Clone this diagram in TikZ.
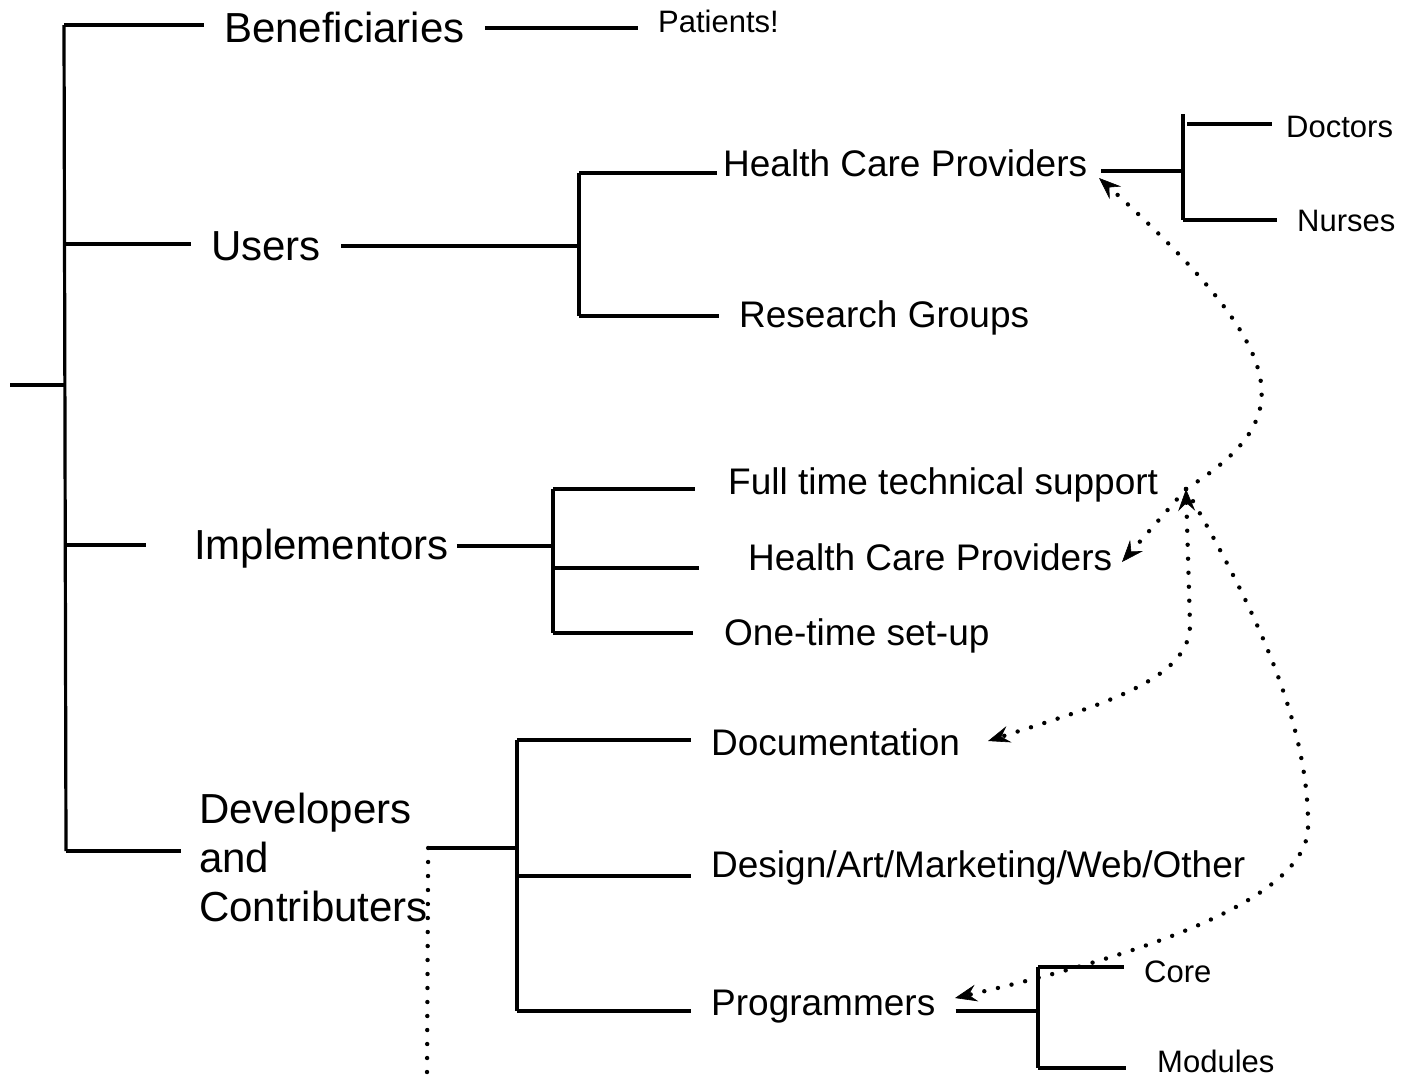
\documentclass[tikz,border=0pt]{standalone}
\usepackage{fontspec}
\setmainfont{Liberation Sans}
\usetikzlibrary{arrows.meta}

\begin{document}
\begin{tikzpicture}[x=1pt, y=-1pt,
    branch/.style={line width=3.2pt},
    dots/.style={line width=4.4pt, line cap=round, dash pattern=on 0pt off 14pt},
    >={Stealth[length=22pt, width=17pt, inset=8pt, line width=0.6pt]},
    topic/.style={anchor=base west, inner xsep=20pt, font=\fontsize{42}{49}\selectfont},
    role/.style={anchor=base west, inner xsep=20pt, font=\fontsize{37}{44}\selectfont},
    detail/.style={anchor=base west, inner xsep=20pt, font=\fontsize{31}{37}\selectfont}]

    \useasboundingbox (0,0) rectangle (1404,1077);

    % Top level groups
    \node[topic] (benef) at (204,42) {Beneficiaries};
    \node[topic] (users) at (191,260) {Users};
    \node[topic, inner xsep=8pt] (impl) at (186,559) {Implementors};
    \node[topic, anchor=west, inner xsep=0pt, align=left] (dev) at (199,857) {Developers\\and\\Contributers};

    % Second level
    \node[role, inner xsep=6pt] (hcp) at (717,176) {Health Care Providers};
    \node[role] (research) at (719,327) {Research Groups};
    \node[role, inner xsep=33pt] (support) at (695,494) {Full time technical support};
    \node[role, inner xsep=49pt] (hcpimpl) at (699,570) {Health Care Providers};
    \node[role, inner xsep=31pt] (setup) at (693,645) {One-time set-up};
    \node[role] (docs) at (691,755) {Documentation};
    \node[role] (design) at (691,877) {Design/Art/Marketing/Web/Other};
    \node[role] (prog) at (691,1015) {Programmers};

    % Leaves
    \node[detail] (patients) at (638,32) {Patients!};
    \node[detail, inner xsep=14pt] (doctors) at (1272,137) {Doctors};
    \node[detail] (nurses) at (1277,231) {Nurses};
    \node[detail] (core) at (1124,982) {Core};
    \node[detail, inner xsep=31pt] (modules) at (1126,1072) {Modules};

    % Main trunk
    \coordinate (root) at (10,385);
    \coordinate (tB) at (64,25);
    \coordinate (tU) at (64,244);
    \coordinate (tI) at (65,545);
    \coordinate (tD) at (66,851);
    \draw[branch] (tB) -- (tD);
    \draw[branch] (root) -- (root -| tB);
    \draw[branch] (tB) -- (tB -| benef.west);
    \draw[branch] (tU) -- (tU -| users.west);
    \draw[branch, shorten >=40pt] (tI) -- (tI -| impl.west);
    \draw[branch, shorten >=18pt] (tD) -- (tD -| dev.west);

    % Beneficiaries
    \coordinate (pJ) at (491,28);
    \draw[branch] (benef.east |- pJ) -- (patients.west |- pJ);

    % Users
    \coordinate (uJ) at (579,246);
    \coordinate (uTop) at (579,173);
    \coordinate (uBot) at (579,316);
    \draw[branch] (users.east |- uJ) -- (uJ);
    \draw[branch] (uTop) -- (uBot);
    \draw[branch] (uTop) -- (uTop -| hcp.west);
    \draw[branch] (uBot) -- (uBot -| research.west);

    % Health care providers
    \coordinate (hJ) at (1183,171);
    \coordinate (hTop) at (1183,114);
    \coordinate (hDoc) at (1187,124);
    \coordinate (hBot) at (1183,220);
    \draw[branch, shorten <=8pt] (hcp.east |- hJ) -- (hJ);
    \draw[branch] (hTop) -- (hBot);
    \draw[branch] (hDoc) -- (hDoc -| doctors.west);
    \draw[branch] (hBot) -- (hBot -| nurses.west);

    % Implementors
    \coordinate (iJ) at (553,546);
    \coordinate (iTop) at (553,489);
    \coordinate (iMid) at (553,568);
    \coordinate (iBot) at (553,633);
    \draw[branch] (impl.east |- iJ) -- (iJ);
    \draw[branch] (iTop) -- (iBot);
    \draw[branch] (iTop) -- (iTop -| support.west);
    \draw[branch] (iMid) -- (iMid -| hcpimpl.west);
    \draw[branch] (iBot) -- (iBot -| setup.west);

    % Developers
    \coordinate (dJ) at (517,848);
    \coordinate (dTop) at (517,740);
    \coordinate (dMid) at (517,876);
    \coordinate (dBot) at (517,1011);
    \coordinate (devEnd) at (427,1077);
    \draw[branch] (dev.east |- dJ) -- (dJ);
    \draw[branch] (dTop) -- (dBot);
    \draw[branch] (dTop) -- (dTop -| docs.west);
    \draw[branch] (dMid) -- (dMid -| design.west);
    \draw[branch] (dBot) -- (dBot -| prog.west);
    \draw[dots] (dev.east |- dJ) -- (devEnd);

    % Programmers
    \coordinate (pgJ) at (1038,1011);
    \coordinate (pgTop) at (1038,967);
    \coordinate (pgBot) at (1038,1068);
    \draw[branch] (prog.east |- pgJ) -- (pgJ);
    \draw[branch] (pgTop) -- (pgBot);
    \draw[branch] (pgTop) -- (pgTop -| core.west);
    \draw[branch] (pgBot) -- (pgBot -| modules.west);

    % Dotted links from technical support
    \coordinate (hub) at (1186,489);
    \coordinate (hcpTip) at (1099,178);
    \coordinate (hcpimplTip) at (1122,562);
    \coordinate (docsBend) at (1190,625);
    \coordinate (docsTip) at (988,741);
    \coordinate (progBend) at (1308,830);
    \coordinate (progTip) at (955,998);
    \draw[dots, ->] (hub) .. controls (1295,420) and (1300,360) .. (hcpTip);
    \draw[dots, ->] (hub) -- (hcpimplTip);
    \draw[dots, <->] (hub) -- (docsBend) .. controls (1190,680) and (1100,705) .. (docsTip);
    \draw[dots, ->] (hub) .. controls (1250,600) and (1310,720) .. (progBend)
        .. controls (1302,905) and (1120,960) .. (progTip);

\end{tikzpicture}
\end{document}
